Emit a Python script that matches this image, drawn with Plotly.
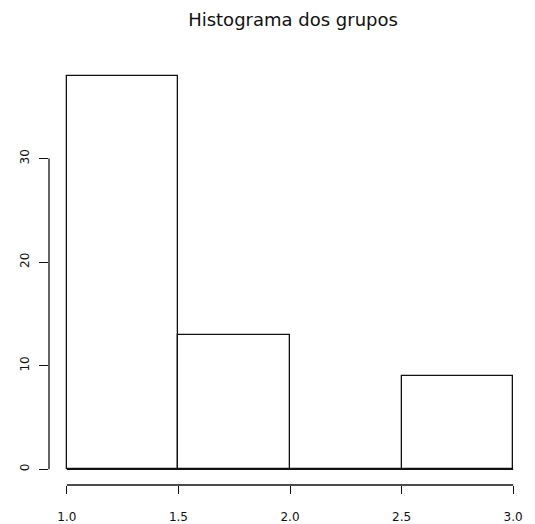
import plotly.graph_objects as go

bin_edges = [1.0, 1.5, 2.0, 2.5, 3.0]
counts = [38, 13, 0, 9]
x_ticks = [1.0, 1.5, 2.0, 2.5, 3.0]
x_tick_labels = ["1.0", "1.5", "2.0", "2.5", "3.0"]
y_ticks = [0, 10, 20, 30]
y_tick_labels = ["0", "10", "20", "30"]
title_text = "Histograma dos grupos"

mids = [(a + b) / 2 for a, b in zip(bin_edges[:-1], bin_edges[1:])]
widths = [b - a for a, b in zip(bin_edges[:-1], bin_edges[1:])]

fig = go.Figure()
fig.add_trace(go.Bar(
    x=mids, y=counts, width=widths,
    marker=dict(color="white", line=dict(color="#111111", width=1.3)),
    hoverinfo="skip",
))
# baseline across bins (R draws zero-height bins as a flat line)
fig.add_trace(go.Scatter(
    x=[bin_edges[0], bin_edges[-1]], y=[0, 0], mode="lines",
    line=dict(color="#111111", width=1.3), hoverinfo="skip", cliponaxis=False,
))

xmin, xmax = bin_edges[0], bin_edges[-1]
ymax = max(counts)
xpad = 0.04 * (xmax - xmin)
ypad = 0.04 * ymax

font = dict(family="DejaVu Sans", size=12, color="#111111")

fig.update_layout(
    width=535, height=524,
    margin=dict(l=49, r=4, t=60, b=39, autoexpand=False),
    paper_bgcolor="white", plot_bgcolor="white",
    showlegend=False,
    bargap=0,
    title=dict(text=title_text, x=293 / 535, xanchor="center",
               y=1 - 20 / 524, yanchor="middle",
               font=dict(family="DejaVu Sans", size=18, color="#111111")),
    xaxis=dict(range=[xmin - xpad, xmax + xpad], tickvals=x_ticks, ticktext=x_tick_labels,
               ticks="outside", ticklen=8, tickwidth=1.3, tickcolor="#111111",
               showgrid=False, zeroline=False, showline=False, automargin=False,
               tickfont=font, ticklabelstandoff=13),
    yaxis=dict(range=[-ypad, ymax + ypad], tickvals=y_ticks, ticktext=y_tick_labels,
               ticks="outside", ticklen=9, tickwidth=1.3, tickcolor="#111111",
               showgrid=False, zeroline=False, showline=False, automargin=False,
               tickangle=-90, tickfont=font, ticklabelstandoff=5),
)
# axis lines spanning only the tick range, like R
fig.add_shape(type="line", xref="x", yref="paper", x0=x_ticks[0], x1=x_ticks[-1], y0=0, y1=0,
              line=dict(color="#111111", width=1.3))
fig.add_shape(type="line", xref="paper", yref="y", x0=0, x1=0, y0=y_ticks[0], y1=y_ticks[-1],
              line=dict(color="#111111", width=1.3))

fig.write_html("out.html")
